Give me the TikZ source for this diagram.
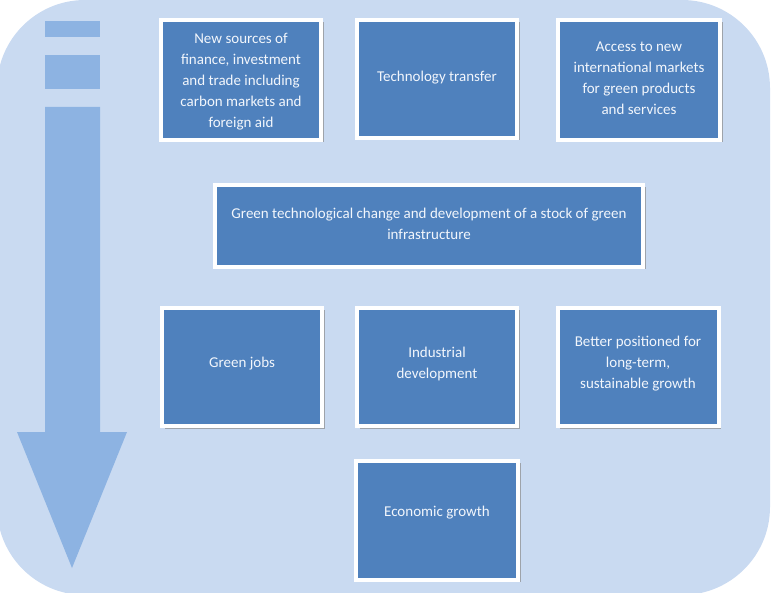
\documentclass[tikz,border=0pt]{standalone}
\usepackage{fontspec}
\setmainfont{Carlito}
\usetikzlibrary{shadows}
\definecolor{bgblue}{HTML}{C9DAF1}
\definecolor{boxblue}{HTML}{4F81BD}
\definecolor{arrblue}{HTML}{8DB3E2}
\definecolor{txtcol}{HTML}{F2F6FC}
\tikzset{
  box/.style={rectangle, draw=white, line width=4pt, fill=boxblue,
    drop shadow={shadow xshift=2.5pt, shadow yshift=-2.5pt, fill=black!45, opacity=0.7},
    inner sep=0pt},
  txt/.style={text=txtcol, align=center, font=\fontsize{15}{21}\selectfont, inner sep=0pt},
  arrowpart/.style={fill=arrblue, draw=none}
}
\begin{document}
\begin{tikzpicture}[x=1pt,y=-1pt]
\useasboundingbox (0,0) rectangle (773,593);
% background
\fill[bgblue, rounded corners=88pt] (-3,0) rectangle (770,595);
% arrow
\fill[arrowpart] (45,21) rectangle (100,37);
\fill[arrowpart] (45,55) rectangle (100,89);
\fill[arrowpart] (45,107) -- (100,107) -- (100,432) -- (127,432) -- (72,568) -- (17,432) -- (45,432) -- cycle;
% boxes
\node[box, minimum width=160pt, minimum height=120pt] (a) at (241,80) {};
\node[box, minimum width=160pt, minimum height=118pt] (b) at (437,79) {};
\node[box, minimum width=162pt, minimum height=120pt] (c) at (639,80) {};
\node[box, minimum width=428pt, minimum height=82pt] (d) at (429,226) {};
\node[box, minimum width=160pt, minimum height=118pt] (e) at (242,367) {};
\node[box, minimum width=160pt, minimum height=118pt] (f) at (437,367) {};
\node[box, minimum width=161pt, minimum height=118pt] (g) at (638,367) {};
\node[box, minimum width=162pt, minimum height=119pt] (h) at (437,520) {};
% texts
\node[txt] (at) at ([yshift=-2pt]a.center) {New sources of\\finance, investment\\and trade including\\carbon markets and\\foreign aid};
\node[txt] (bt) at ([yshift=1pt]b.center) {Technology transfer};
\node[txt] (ct) at ([yshift=2pt]c.center) {Access to new\\international markets\\for green products\\and services};
\node[txt] (dt) at ([yshift=2pt]d.center) {Green technological change and development of a stock of green\\infrastructure};
\node[txt] (et) at ([yshift=3pt]e.center) {Green jobs};
\node[txt] (ft) at ([yshift=3pt]f.center) {Industrial\\development};
\node[txt] (gt) at ([yshift=3pt]g.center) {Better positioned for\\long-term,\\sustainable growth};
\node[txt] (ht) at ([yshift=7pt]h.center) {Economic growth};
\end{tikzpicture}
\end{document}
